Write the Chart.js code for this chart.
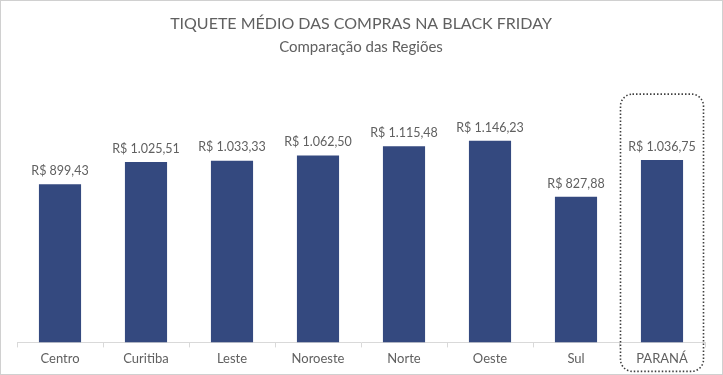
<!DOCTYPE html>
<html><head><meta charset="utf-8">
<script src="https://cdn.jsdelivr.net/npm/chart.js@4/dist/chart.umd.min.js"></script>
<style>html,body{margin:0;padding:0;background:#fff}#wrap{width:723px;height:375px;position:relative}</style>
</head><body><div id="wrap"><canvas id="c" width="723" height="375"></canvas></div>
<script>
const categories = ["Centro","Curitiba","Leste","Noroeste","Norte","Oeste","Sul","PARANÁ"];
const values = [899.43,1025.51,1033.33,1062.50,1115.48,1146.23,827.88,1036.75];
const titleText = "TIQUETE MÉDIO DAS COMPRAS NA BLACK FRIDAY";
const subtitleText = "Comparação das Regiões";
const highlightIndex = 7;

const fmt = v => "R$ " + v.toLocaleString("pt-BR",{minimumFractionDigits:2,maximumFractionDigits:2});
const FONT = "Lato, 'Open Sans', sans-serif";
const GRAY = "#606060";

const extras = {
  id:'extras',
  afterDatasetsDraw(chart){
    const ctx = chart.ctx;
    const meta = chart.getDatasetMeta(0);
    ctx.save();
    ctx.font = "12.5px " + FONT;
    ctx.fillStyle = GRAY;
    ctx.textAlign = "center";
    ctx.textBaseline = "bottom";
    meta.data.forEach((bar,i)=>{
      ctx.fillText(fmt(values[i]), bar.x, bar.y - 7);
    });
    const xs = chart.scales.x;
    const half = (xs.getPixelForValue(1) - xs.getPixelForValue(0))/2;
    const cx = xs.getPixelForValue(highlightIndex);
    const b = meta.data[highlightIndex];
    ctx.strokeStyle = "#404040";
    ctx.lineWidth = 1.6;
    ctx.setLineDash([1.5,2]);
    ctx.beginPath();
    ctx.roundRect(cx-half+1.5, b.y-66, 2*half-3, chart.chartArea.bottom - b.y + 95, 12);
    ctx.stroke();
    ctx.setLineDash([]);
    ctx.strokeStyle = "#d0d0d0";
    ctx.lineWidth = 1;
    ctx.strokeRect(0.5,0.5,chart.width-1,chart.height-1);
    ctx.restore();
  }
};

new Chart(document.getElementById('c'),{
  type:'bar',
  data:{labels:categories,datasets:[{data:values,backgroundColor:"#34497f",borderWidth:0,categoryPercentage:0.49,barPercentage:1}]},
  options:{
    responsive:false,animation:false,
    layout:{padding:{left:17,right:18,top:0,bottom:4}},
    plugins:{
      legend:{display:false},tooltip:{enabled:false},
      title:{display:true,text:titleText,color:GRAY,font:{family:FONT,size:16,weight:'normal'},padding:{top:14,bottom:5}},
      subtitle:{display:true,text:subtitleText,color:GRAY,font:{family:FONT,size:15,weight:'normal'},padding:{bottom:33}}
    },
    scales:{
      x:{grid:{display:true,offset:true,drawOnChartArea:false,tickLength:5,color:"#d9d9d9"},border:{color:"#d9d9d9"},
         ticks:{color:GRAY,font:{family:FONT,size:13},padding:4}},
      y:{display:false,min:0,max:1440}
    }
  },
  plugins:[extras]
});
</script></body></html>
